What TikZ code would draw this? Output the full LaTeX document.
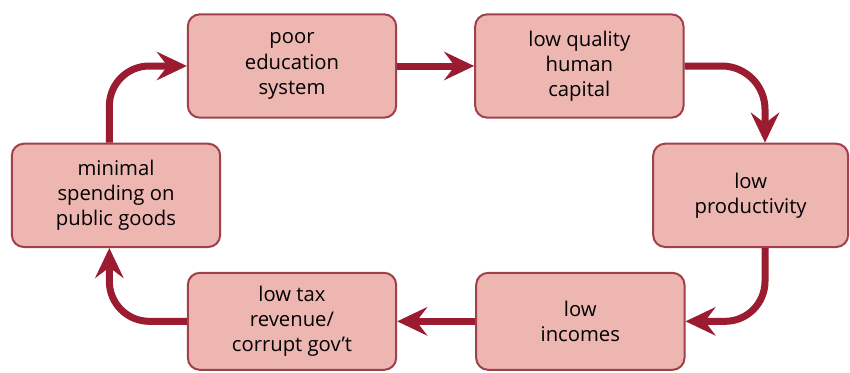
\documentclass[tikz,border=0pt]{standalone}
\usepackage{fontspec}
\setmainfont{Open Sans}
\usetikzlibrary{arrows.meta, calc}
\definecolor{cyclered}{HTML}{9B1B30}
\definecolor{boxedge}{HTML}{A0404A}
\definecolor{boxpink}{HTML}{EDB6B1}

\begin{document}
\begin{tikzpicture}[
    >=Stealth,
    arr/.style={-{Stealth[length=0.9cm, width=0.85cm, inset=0.32cm]},
                line width=0.21cm, cyclered},
    every node/.style={align=center},
    % Cycle box
    cbox/.style={rectangle, rounded corners=0.36cm, draw=boxedge, line width=0.06cm,
                 fill=boxpink, minimum width=6.25cm, minimum height=3.1cm,
                 font=\fontsize{17.3}{21.5}\selectfont, inner sep=4pt}
]
\useasboundingbox (0,0) rectangle (25.5,11.16);

% ========== Top row ==========
\node[cbox] at (8.76, 9.18) (edu) {poor\\education\\system};
\node[cbox] at (17.38, 9.18) (hum) {low quality\\human\\capital};

% ========== Middle row ==========
\node[cbox] at (3.48, 5.30) (pub) {minimal\\spending on\\public goods};
\node[cbox, minimum width=5.85cm] at (22.52, 5.30) (prod) {low\\productivity};

% ========== Bottom row ==========
\node[cbox, minimum height=2.91cm] at (8.76, 1.52) (tax) {low tax\\revenue/\\corrupt gov't};
\node[cbox, minimum height=2.91cm] at (17.41, 1.52) (inc) {low\\incomes};

% ========== Arrows ==========
\draw[arr] (edu.east) -- (hum.west);
\draw[arr, rounded corners=1.3cm] (hum.east) -| ([xshift=0.43cm]prod.north);
\draw[arr, rounded corners=1.2cm] ([xshift=0.43cm]prod.south) |- (inc.east);
\draw[arr] (inc.west) -- (tax.east);
\draw[arr, rounded corners=1.2cm] (tax.west) -| ([xshift=-0.2cm]pub.south);
\draw[arr, rounded corners=1.2cm] ([xshift=-0.2cm]pub.north) |- (edu.west);

\end{tikzpicture}
\end{document}
